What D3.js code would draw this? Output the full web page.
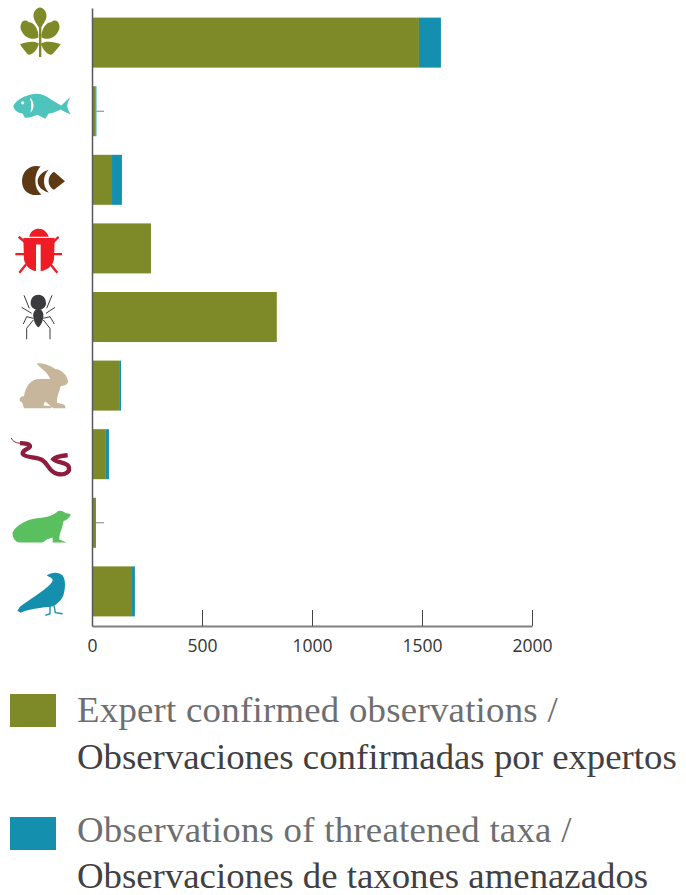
<!DOCTYPE html>
<html>
<head>
<meta charset="utf-8">
<script src="https://cdn.jsdelivr.net/npm/d3@7"></script>
<style>
  body { margin: 0; background: #fff; }
  svg { display: block; }
  .tick text { font-family: "Open Sans", sans-serif; font-size: 17.5px; fill: #333; }
  .legend text { font-family: "Liberation Serif", serif; font-size: 36.8px; }
</style>
</head>
<body>
<div id="chart"></div>
<script>
const categories = ['Plantas', 'Peces', 'Moluscos', 'Insectos', 'Aracnidos', 'Mamiferos', 'Reptiles', 'Anfibios', 'Aves'];
const confirmed = [1486, 17, 91, 268, 840, 127, 60, 18, 182];
const threatened = [100, 3, 45, 0, 0, 5, 17, 0, 13];
const leaderCategories = ['Peces', 'Anfibios'];
const leaderEnd = 55;
const xTicks = [0, 500, 1000, 1500, 2000];
const seriesNames = ['confirmed', 'threatened'];
const seriesColors = ['#7d8a27', '#1490ae'];
const legendLines = [
  ['Expert confirmed observations /', 'Observaciones confirmadas por expertos'],
  ['Observations of threatened taxa /', 'Observaciones de taxones amenazados']
];

// icons are traced at 3x, anchor is the y of the bar centre in the same space
const icons = [
  { color: '#7d8a27', anchor: 129,
    fill: 'M120 24C132 24 142 40 139 54C136 68 128 74 124 84L116 84C112 74 104 68 101 54C98 40 108 24 120 24Z M64 72C66 60 82 60 86 68C100 66 118 90 115 114C100 122 78 116 68 100C60 90 60 80 64 72Z M176 72C174 60 158 60 154 68C140 66 122 90 125 114C140 122 162 116 172 100C180 90 180 80 176 72Z M60 134C80 126 104 122 117 132C112 152 96 168 84 165C76 156 68 146 60 134Z M182 134C162 126 138 122 123 132C128 152 144 168 156 165C164 156 174 146 182 134Z M117 70L124 70L124 172L117 172Z' },
  { color: '#4fc4bd', anchor: 333,
    fill: 'M40 318C44 306 64 290 90 284C110 276 134 282 150 296C162 304 176 312 184 316C192 310 202 298 212 290C206 302 200 312 202 320C204 330 208 336 212 342C200 340 190 332 182 328C170 334 156 340 146 340L136 356L112 344C100 350 84 354 74 352L68 340C54 338 42 330 40 318Z',
    cut: 'M63 308A5 5 0 1 0 73 308A5 5 0 1 0 63 308Z M90 292C104 306 104 324 92 338C94 320 94 306 90 292Z' },
  { color: '#5e3a14', anchor: 540,
    fill: 'M122 500C88 492 66 516 66 544C66 572 88 592 124 584C112 574 106 560 106 544C106 526 112 510 122 500Z M146 510C124 516 113 532 113 544C113 558 124 572 146 578C136 566 132 556 132 544C132 532 136 520 146 510Z M162 516C150 524 146 534 146 544C146 554 150 562 162 570L195 544Z' },
  { color: '#ee1c25', anchor: 87, width: 7,
    fill: 'M88 52C90 36 104 28 116 28C130 28 142 38 146 52Z M70 56L164 56L162 120C158 140 142 152 122 155L122 75L108 75L108 155C90 152 76 140 72 120Z',
    line: 'M75 68L56 52M160 68L176 52M72 104L46 104M162 104L186 104M78 135L58 160M152 135L172 160' },
  { color: '#3b3b3d', anchor: 291, width: 3,
    fill: 'M115 224C130 224 138 236 138 250C138 262 128 270 115 270C102 270 92 262 92 250C92 236 100 224 115 224Z M115 268C126 268 132 278 130 292C128 306 122 318 115 322C108 318 102 306 100 292C98 278 104 268 115 268Z',
    line: 'M88 265L72 226M140 265L156 226M95 280L65 262M138 280L165 262M100 295L80 290L70 312M130 295L150 290L163 312M100 300L80 325L80 358M130 300L150 325L150 358' },
  { color: '#c8b69c', anchor: 498,
    fill: 'M110 432C125 428 150 438 165 448C185 448 205 470 204 488C200 498 190 498 182 500C176 520 168 540 172 550C190 552 198 556 196 566L160 566C150 560 140 548 135 546L130 558L154 560L154 566L72 566C68 556 70 548 60 545C56 536 64 530 72 530C76 500 92 478 120 478L150 478C146 460 120 445 110 432Z' },
  { color: '#8f1b3e', anchor: 87, width: 13,
    line: 'M60 54C72 54 92 56 90 64C86 72 66 74 68 86C74 98 110 94 126 104C146 116 146 140 172 146C196 152 212 138 206 124C198 110 172 114 160 102C168 92 186 92 203 90',
    thin: 'M34 38C38 50 50 54 62 54' },
  { color: '#5abf5e', anchor: 294,
    fill: 'M38 322C50 300 78 285 110 280C130 278 155 276 170 262C180 254 190 260 195 264L212 268C210 280 198 284 190 290C188 310 176 330 178 344L200 353L158 353L158 338L140 344L128 353L60 353C44 352 36 335 38 322Z' },
  { color: '#1490ae', anchor: 498, width: 4,
    fill: 'M140 450C155 440 175 438 188 450C198 465 196 490 190 510C180 530 165 545 142 545C120 548 90 550 62 562L52 556L60 544C90 522 118 505 138 488C150 478 158 470 158 462C154 456 148 454 140 450Z',
    line: 'M150 540L150 565L136 570M162 540L166 562L188 565' }
];

const svg = d3.select('#chart').append('svg').attr('width', 686).attr('height', 895);

const x = d3.scaleLinear().domain([0, 2000]).range([92, 532]);
const y = d3.scaleBand().domain(categories).range([8, 626]).paddingInner(0.271).paddingOuter(0.14);

const rows = categories.map((c, i) => ({ category: c, confirmed: confirmed[i], threatened: threatened[i] }));
const stacked = d3.stack().keys(seriesNames)(rows);

// leader ticks sit under the bars
svg.append('g').selectAll('line')
  .data(leaderCategories)
  .enter().append('line')
  .attr('x1', d => x(rows[categories.indexOf(d)].confirmed + rows[categories.indexOf(d)].threatened))
  .attr('x2', x(leaderEnd))
  .attr('y1', d => y(d) + y.bandwidth() / 2)
  .attr('y2', d => y(d) + y.bandwidth() / 2)
  .attr('stroke', '#808080')
  .attr('stroke-width', 1);

svg.append('g').selectAll('g')
  .data(stacked)
  .enter().append('g')
  .attr('fill', (d, i) => seriesColors[i])
  .selectAll('rect')
  .data(d => d)
  .enter().append('rect')
  .attr('x', d => x(d[0]))
  .attr('y', d => y(d.data.category))
  .attr('width', d => x(d[1]) - x(d[0]))
  .attr('height', y.bandwidth());

const xAxis = svg.append('g')
  .attr('transform', 'translate(0,626)')
  .call(d3.axisBottom(x).tickValues(xTicks).tickFormat(d3.format('d')).tickSize(-16).tickPadding(5).tickSizeOuter(0));
xAxis.select('.domain').attr('stroke', '#808080').attr('stroke-width', 2);
xAxis.selectAll('.tick line').attr('stroke', '#444').attr('stroke-width', 1);
xAxis.selectAll('.tick text').attr('dy', '1.2em');

const yAxis = svg.append('g')
  .attr('transform', 'translate(92,0)')
  .call(d3.axisLeft(y).tickSize(0).tickFormat(''));
yAxis.select('.domain').attr('stroke', '#58595b').attr('stroke-width', 1.5);

const icon = svg.append('g').selectAll('g')
  .data(icons)
  .enter().append('g')
  .attr('transform', (d, i) => `translate(0,${y(categories[i]) + y.bandwidth() / 2 - d.anchor / 3}) scale(${1 / 3})`);

icon.filter(d => d.fill).append('path').attr('d', d => d.fill).attr('fill', d => d.color);
icon.filter(d => d.cut).append('path').attr('d', d => d.cut).attr('fill', '#fff');
icon.filter(d => d.line).append('path').attr('d', d => d.line)
  .attr('fill', 'none').attr('stroke', d => d.color).attr('stroke-width', d => d.width);
icon.filter(d => d.thin).append('path').attr('d', d => d.thin)
  .attr('fill', 'none').attr('stroke', d => d.color).attr('stroke-width', 3);

// legend
const legend = svg.append('g').attr('class', 'legend');
const legendRow = legend.selectAll('g')
  .data(legendLines)
  .enter().append('g');

legendRow.append('rect')
  .attr('x', 10).attr('y', (d, i) => 694 + i * 123).attr('width', 46).attr('height', 33)
  .attr('fill', (d, i) => seriesColors[i]);

legendRow.append('text')
  .attr('x', 77).attr('y', (d, i) => 722 + i * 119.5).attr('fill', '#6d6e71')
  .attr('letter-spacing', 0.25)
  .text(d => d[0]);

legendRow.append('text')
  .attr('x', 77).attr('y', (d, i) => 768.5 + i * 119.5).attr('fill', '#414042')
  .text(d => d[1]);
</script>
</body>
</html>
